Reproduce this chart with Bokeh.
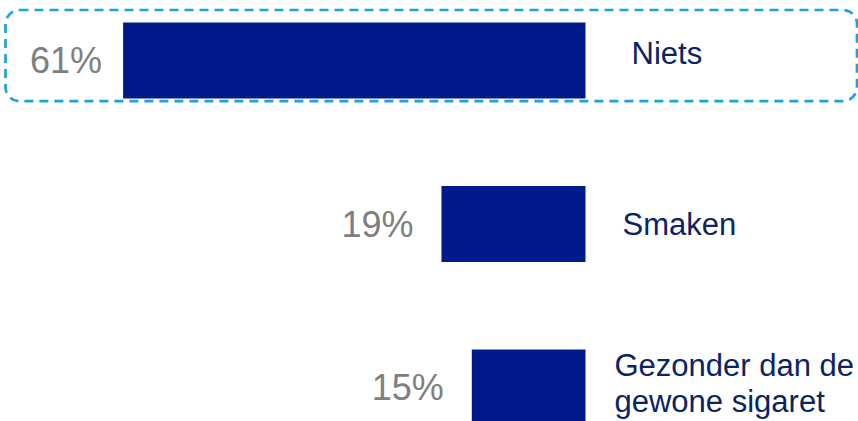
from bokeh.plotting import figure
from bokeh.models import ColumnDataSource, Range1d, BoxAnnotation
from bokeh.core.properties import value
from bokeh.embed import file_html
from bokeh.resources import INLINE

# ---- data ----
categories = ["Niets", "Smaken", "Gezonder dan de\ngewone sigaret"]
percentages = [61, 19, 15]
pct_labels = ["61%", "19%", "15%"]

# ---- layout helpers (screen offsets for labels) ----
label_dx = [46, 37, 29]
label_dy = [-7, 0, -4]
pct_dx = [-21, -28, -28]

idx = list(range(len(categories)))
src = ColumnDataSource(dict(
    y=idx,
    left=[-v for v in percentages],
    right=[0] * len(percentages),
    cat=categories,
    pct=pct_labels,
    dx=label_dx,
    dy=label_dy,
    pdx=pct_dx,
))

W, H = 858, 421
px_per_unit = 7.58
zero_px = 585.0
row_px = 163.5
first_row_px = 60.0

p = figure(
    width=W, height=H,
    output_backend="svg", toolbar_location=None,
    x_range=Range1d(-zero_px / px_per_unit, (W - zero_px) / px_per_unit),
    y_range=Range1d((H - first_row_px) / row_px, -first_row_px / row_px),
    x_axis_location=None, y_axis_location=None,
    min_border=0, min_border_left=0, min_border_right=0,
    min_border_top=0, min_border_bottom=0,
    outline_line_color=None, background_fill_color="white",
    border_fill_color="white",
)
p.xgrid.visible = False
p.ygrid.visible = False

p.hbar(y="y", left="left", right="right", height=0.465, source=src,
       fill_color="#001A8C", line_color=None)

p.text(x="left", y="y", text="pct", source=src, x_offset="pdx",
       text_align="right", text_baseline="middle",
       text_font=value("Liberation Sans"), text_font_size="36px",
       text_color="#7F7F7F")

p.text(x="right", y="y", text="cat", source=src, x_offset="dx", y_offset="dy",
       text_align="left", text_baseline="middle",
       text_font=value("Liberation Sans"), text_font_size="31px",
       text_color="#0B2263", text_line_height=1.05)

# highlight box around the first row
box = BoxAnnotation(
    left=(5 - zero_px) / px_per_unit, right=(856.5 - zero_px) / px_per_unit,
    top=(9.5 - first_row_px) / row_px, bottom=(100.7 - first_row_px) / row_px,
    fill_alpha=0, line_color="#1BA3DD", line_alpha=1.0, line_width=2.7,
    line_dash="9 6", border_radius=14,
)
p.add_layout(box)

open("out.html", "w").write(file_html(p, INLINE))
